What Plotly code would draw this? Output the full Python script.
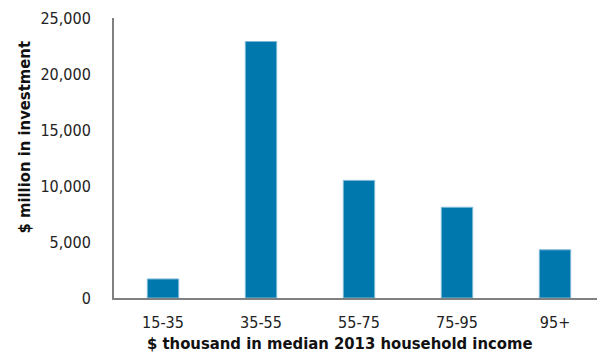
import plotly.graph_objects as go

categories = ["15-35", "35-55", "55-75", "75-95", "95+"]
investment = [1700, 22900, 10500, 8100, 4300]
y_tickvals = [0, 5000, 10000, 15000, 20000, 25000]
y_ticktext = ["0", "5,000", "10,000", "15,000", "20,000", "25,000"]

FONT = "Liberation Sans Narrow, DejaVu Sans Condensed, Arial Narrow, sans-serif"

fig = go.Figure(
    go.Bar(
        x=categories,
        y=investment,
        marker=dict(color="#0077AD", line=dict(color="#7FB8D6", width=1)),
    )
)

fig.update_layout(
    width=597,
    height=348,
    margin=dict(l=106, r=1, t=10, b=58, autoexpand=False),
    plot_bgcolor="white",
    paper_bgcolor="white",
    bargap=0.68,
    showlegend=False,
    font=dict(family=FONT, size=16, color="#222222"),
    xaxis=dict(
        showline=True,
        linecolor="#808080",
        linewidth=2,
        showgrid=False,
        ticks="",
        tickfont=dict(size=16, color="#222222"),
        ticklabelstandoff=9,
        ticklabeloverflow="allow",
        automargin=False,
    ),
    yaxis=dict(
        range=[0, 25000],
        tickvals=y_tickvals,
        ticktext=y_ticktext,
        showline=True,
        linecolor="#808080",
        linewidth=2,
        showgrid=False,
        zeroline=False,
        ticks="",
        tickfont=dict(size=16, color="#222222"),
        ticklabelstandoff=18,
        ticklabeloverflow="allow",
        automargin=False,
    ),
    annotations=[
        dict(
            text="<b>$ million in investment</b>",
            xref="paper", yref="paper",
            x=-0.1816, y=0.573,
            xanchor="center", yanchor="middle",
            textangle=-90,
            showarrow=False,
            font=dict(family=FONT, size=16.5, color="#111111"),
        ),
        dict(
            text="<b>$ thousand in median 2013 household income</b>",
            xref="paper", yref="paper",
            x=0.461, y=-0.162,
            xanchor="center", yanchor="middle",
            showarrow=False,
            font=dict(family=FONT, size=16.5, color="#111111"),
        ),
    ],
)

fig.write_html("out.html")
